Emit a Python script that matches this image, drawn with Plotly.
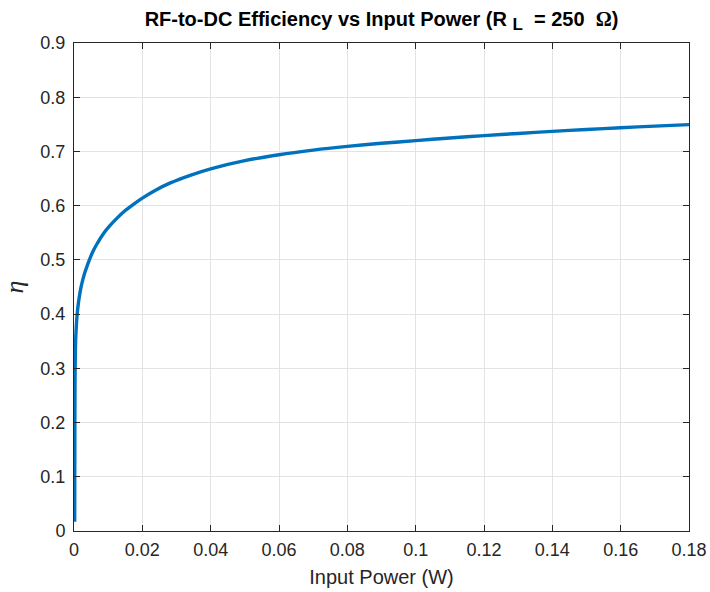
import plotly.graph_objects as go

# Data
power_w = [0.0002, 0.00025, 0.0003, 0.0004, 0.0005, 0.0007, 0.0009, 0.0012,
           0.0016, 0.002, 0.0026, 0.0032, 0.0039, 0.0045, 0.0055, 0.0065,
           0.0087, 0.0105, 0.0126, 0.015, 0.0175, 0.02, 0.024, 0.0282,
           0.034, 0.04, 0.05, 0.06, 0.07, 0.08, 0.09, 0.10, 0.11, 0.12,
           0.13, 0.14, 0.15, 0.16, 0.17, 0.18]
efficiency = [0.017, 0.19, 0.28, 0.33, 0.355, 0.38, 0.398, 0.416,
              0.434, 0.448, 0.464, 0.477, 0.490, 0.500, 0.515, 0.527,
              0.549, 0.563, 0.577, 0.591, 0.603, 0.614, 0.629, 0.642,
              0.656, 0.668, 0.683, 0.694, 0.7025, 0.7093, 0.715, 0.720, 0.7248, 0.7292,
              0.7332, 0.7370, 0.7405, 0.7438, 0.7467, 0.7495]

x_ticks = [0, 0.02, 0.04, 0.06, 0.08, 0.1, 0.12, 0.14, 0.16, 0.18]
x_tick_labels = ["0", "0.02", "0.04", "0.06", "0.08", "0.1", "0.12", "0.14", "0.16", "0.18"]
y_ticks = [0, 0.1, 0.2, 0.3, 0.4, 0.5, 0.6, 0.7, 0.8, 0.9]
y_tick_labels = ["0", "0.1", "0.2", "0.3", "0.4", "0.5", "0.6", "0.7", "0.8", "0.9"]

fig = go.Figure()
fig.add_trace(go.Scatter(x=power_w, y=efficiency, mode="lines",
                         line=dict(color="#0072BD", width=3.4, shape="spline", smoothing=0.8),
                         showlegend=False))

axis_common = dict(showline=True, linecolor="#262626", linewidth=1, mirror="ticks",
                   ticks="inside", ticklen=6, tickcolor="#262626", tickwidth=1,
                   showgrid=True, gridcolor="#e3e3e3", gridwidth=1, zeroline=False,
                   automargin=False,
                   tickfont=dict(family="Liberation Sans, Arial", size=18, color="#262626"))

fig.update_layout(
    width=710, height=592,
    margin=dict(l=74, r=21, t=43, b=61),
    paper_bgcolor="white", plot_bgcolor="white",
    title=dict(text="<b>RF-to-DC Efficiency vs Input Power (R <sub><span style='font-size:17px'>L</span></sub>  = 250  <span style='font-family:Liberation Serif'>Ω</span>)</b>",
               x=0.5, xref="paper", xanchor="center", y=1 - 19 / 592, yanchor="middle",
               font=dict(family="Liberation Sans, Arial", size=20, color="black")),
    xaxis=dict(range=[0, 0.18], tickvals=x_ticks, ticktext=x_tick_labels,
               ticklabelstandoff=2,
               title=dict(text="Input Power (W)", standoff=11,
                          font=dict(family="Liberation Sans, Arial", size=20, color="#262626")),
               **axis_common),
    yaxis=dict(range=[0, 0.9], tickvals=y_ticks, ticktext=y_tick_labels,
               ticklabelstandoff=4,
               title=dict(text="<i>η</i>", standoff=11,
                          font=dict(family="Liberation Serif, Times New Roman", size=26, color="#262626")),
               **axis_common),
)

fig.write_html("out.html")
